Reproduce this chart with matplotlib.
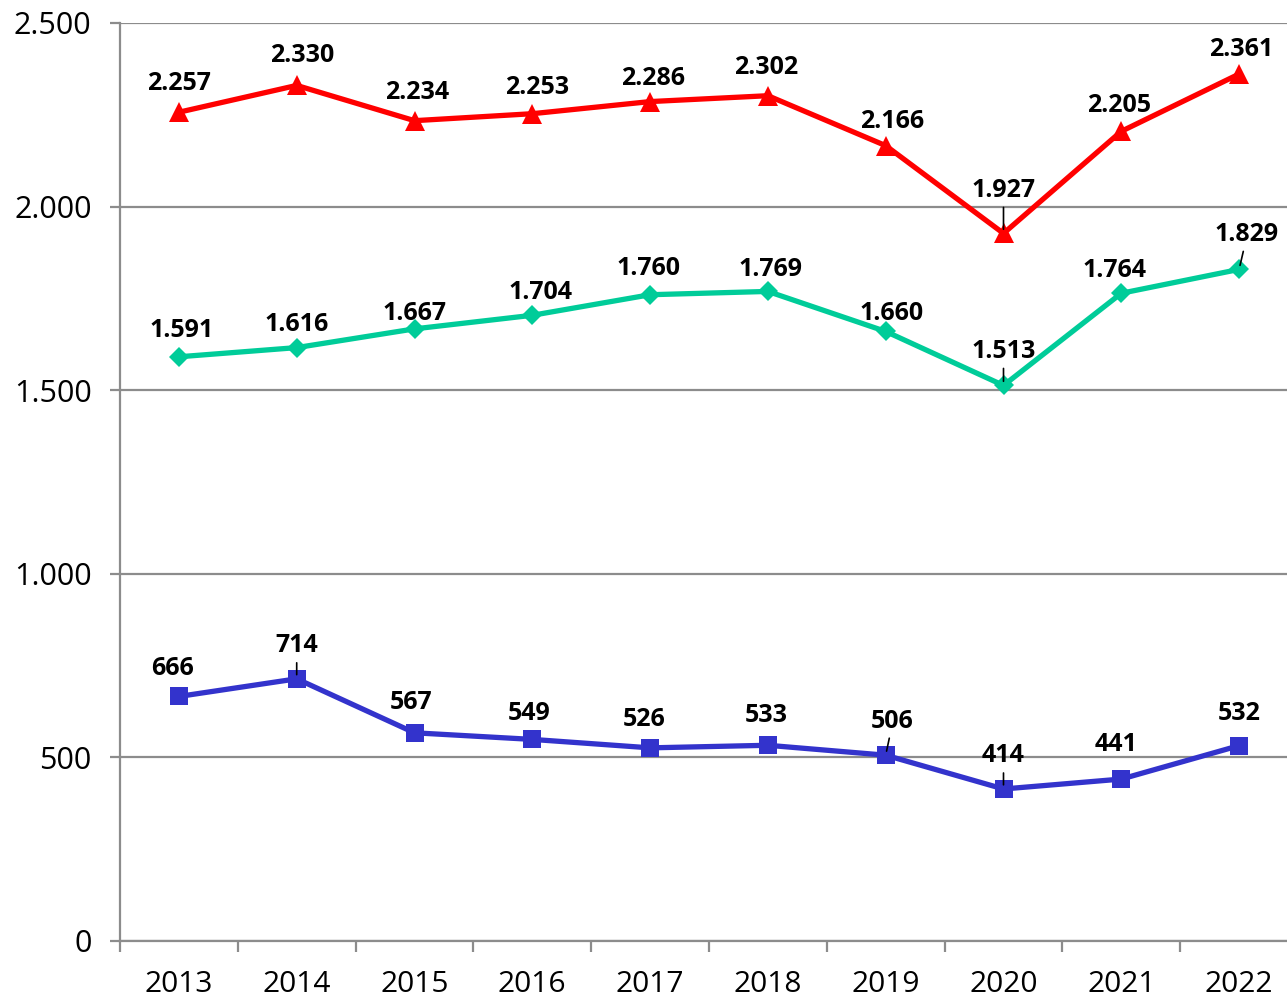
import matplotlib
matplotlib.use("Agg")
import matplotlib.pyplot as plt
from matplotlib.ticker import FuncFormatter, FixedLocator

years = ["2013", "2014", "2015", "2016", "2017", "2018", "2019", "2020", "2021", "2022"]
red_vals = [2257, 2330, 2234, 2253, 2286, 2302, 2166, 1927, 2205, 2361]
teal_vals = [1591, 1616, 1667, 1704, 1760, 1769, 1660, 1513, 1764, 1829]
blue_vals = [666, 714, 567, 549, 526, 533, 506, 414, 441, 532]

# label placement offsets (pixels) and leader-line flags
red_off = [(0, 29), (5, 30), (3, 28), (5, 26), (3, 23), (-2, 28), (6, 24), (0, 43), (-2, 26), (2, 25)]
teal_off = [(3, 26), (0, 23), (0, 15), (8, 23), (-2, 26), (3, 22), (6, 18), (0, 34), (-7, 23), (7, 35)]
blue_off = [(-6, 28), (0, 33), (-3, 30), (-3, 26), (-6, 28), (-2, 30), (6, 34), (0, 33), (-5, 35), (0, 32)]
red_lead = [0, 0, 0, 0, 0, 0, 0, 1, 0, 0]
teal_lead = [0, 0, 0, 0, 0, 0, 0, 1, 0, 1]
blue_lead = [0, 1, 0, 0, 0, 0, 1, 1, 0, 0]

plt.rcParams['font.family'] = ['Open Sans', 'DejaVu Sans']

W, H = 1287, 1002
fig = plt.figure(figsize=(W / 100, H / 100), dpi=100)
left, right, top, bottom = 120, 1298, 23, 941
ax = fig.add_axes([left / W, (H - bottom) / H, (right - left) / W, (bottom - top) / H])

x = list(range(len(years)))
grid_c = "#8c8c8c"

ax.set_ylim(0, 2500)
ax.set_xlim(-0.5, len(years) - 0.5)
ax.set_yticks([0, 500, 1000, 1500, 2000, 2500])
ax.yaxis.set_major_formatter(FuncFormatter(lambda v, p: f"{int(v):,}".replace(",", ".")))
ax.grid(axis="y", color=grid_c, linewidth=1.6, zorder=0)
ax.set_axisbelow(True)

ax.set_xticks(x)
ax.set_xticklabels(years)
ax.xaxis.set_minor_locator(FixedLocator([i - 0.5 for i in range(len(years) + 1)]))
ax.tick_params(axis="x", which="major", length=0, pad=21, labelsize=21.5)
ax.tick_params(axis="x", which="minor", length=8, width=1.6, color=grid_c, direction="out")
ax.tick_params(axis="y", length=7.5, width=1.6, color=grid_c, pad=13, labelsize=22)

for s in ["top", "right"]:
    ax.spines[s].set_visible(False)
for s in ["left", "bottom"]:
    ax.spines[s].set_color(grid_c)
    ax.spines[s].set_linewidth(1.6)

series = [
    (red_vals, "#ff0000", "^", 15, red_off, red_lead),
    (teal_vals, "#00cc99", "D", 10, teal_off, teal_lead),
    (blue_vals, "#3333cc", "s", 13, blue_off, blue_lead),
]

for vals, col, mk, ms, offs, leads in series:
    ax.plot(x, vals, color=col, linewidth=3.8, marker=mk, markersize=ms,
            markeredgewidth=0, zorder=3, clip_on=False)
    for xi, v, (dx, dy), ld in zip(x, vals, offs, leads):
        txt = f"{v:,}".replace(",", ".")
        ax.annotate(txt, (xi, v), xytext=(dx, dy), textcoords="offset pixels",
                    ha="center", va="center", fontsize=18, fontweight="bold",
                    color="black", zorder=5)
        if ld:
            ax.annotate("", (xi, v), xytext=(dx * 0.6, dy - 17), textcoords="offset pixels",
                        arrowprops=dict(arrowstyle="-", color="black", lw=1.2,
                                        shrinkA=0, shrinkB=3), zorder=6)

fig.savefig("out.png", dpi=100)
